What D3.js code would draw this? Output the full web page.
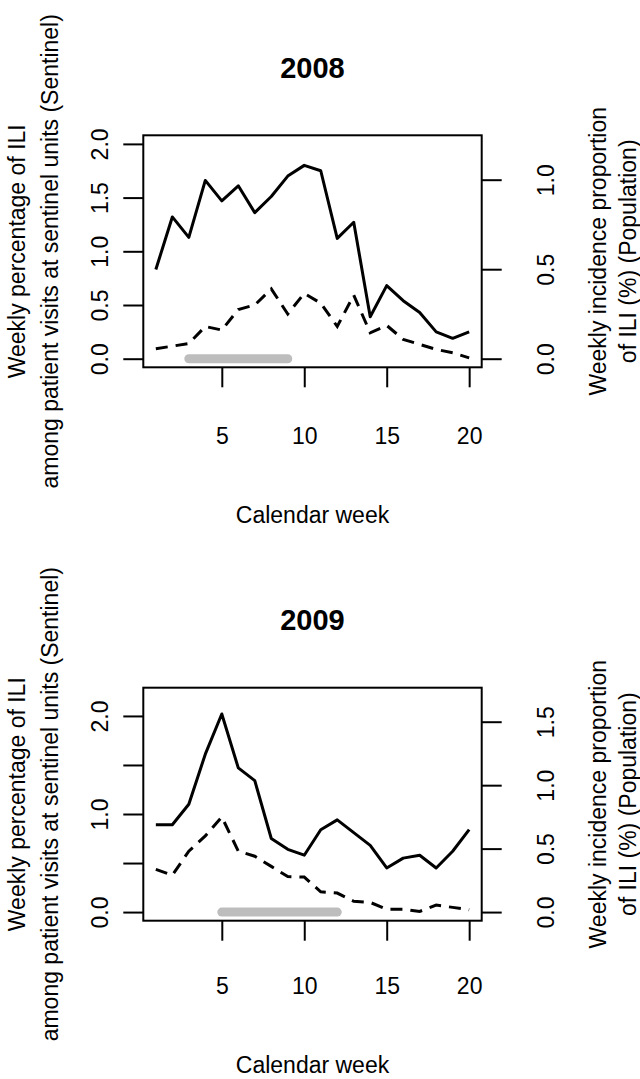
<!DOCTYPE html>
<html lang="en">
<head>
<meta charset="utf-8">
<title>ILI 2008 / 2009</title>
<script src="https://d3js.org/d3.v7.min.js"></script>
<style>
  body { margin: 0; background: #fff; }
  svg { display: block; }
  text { font-family: "Liberation Sans", Arial, sans-serif; fill: #000; }
</style>
</head>
<body>
<script>
// calendar weeks on the x axis
var weeks = [1, 2, 3, 4, 5, 6, 7, 8, 9, 10, 11, 12, 13, 14, 15, 16, 17, 18, 19, 20];
var xTicks = [5, 10, 15, 20];

// 2008 season
var sentinel2008 = [0.83, 1.32, 1.13, 1.66, 1.47, 1.61, 1.36, 1.51, 1.70, 1.80,
                    1.75, 1.12, 1.27, 0.39, 0.68, 0.54, 0.43, 0.25, 0.19, 0.25];
var population2008 = [0.056, 0.07, 0.085, 0.18, 0.16, 0.275, 0.30, 0.39, 0.25, 0.365,
                      0.31, 0.18, 0.355, 0.145, 0.186, 0.108, 0.08, 0.052, 0.033, 0.005];
var period2008 = [3, 9];
var leftTicks2008 = [0, 0.5, 1, 1.5, 2];
var leftLabels2008 = [0, 0.5, 1, 1.5, 2];
var rightTicks2008 = [0, 0.5, 1];

// 2009 season
var sentinel2009 = [0.89, 0.89, 1.10, 1.61, 2.02, 1.47, 1.34, 0.75, 0.64, 0.58,
                    0.84, 0.94, 0.81, 0.68, 0.45, 0.55, 0.58, 0.45, 0.62, 0.84];
var population2009 = [0.336, 0.29, 0.48, 0.60, 0.75, 0.48, 0.44, 0.36, 0.28, 0.276,
                      0.16, 0.15, 0.085, 0.076, 0.023, 0.023, 0.005, 0.055, 0.037, 0.018];
var period2009 = [5, 12];
var leftTicks2009 = [0, 0.5, 1, 1.5, 2];
var leftLabels2009 = [0, 1, 2];
var rightTicks2009 = [0, 0.5, 1, 1.5];

var leftTitle = ["Weekly percentage of ILI", "among patient visits at sentinel units (Sentinel)"];
var rightTitle = ["Weekly incidence proportion", "of ILI (%) (Population)"];
var xTitle = "Calendar week";

var W = 640, H = 1079;
var FS = "23px";
var svg = d3.select("body").append("svg")
    .attr("width", W)
    .attr("height", H);

svg.append("rect").attr("width", W).attr("height", H).attr("fill", "#fff");

// R style limits: 4% padding each side
function pad(lo, hi) {
    var d = (hi - lo) * 0.04;
    return [lo - d, hi + d];
}

function panel(p) {
    var x = d3.scaleLinear().domain(pad(1, 20)).range([p.left, p.right]);
    var yL = d3.scaleLinear().domain(pad(0, p.ylimL)).range([p.bottom, p.top]);
    var yR = d3.scaleLinear().domain(pad(0, p.ylimR)).range([p.bottom, p.top]);
    var cx = (p.left + p.right) / 2;

    var g = svg.append("g");

    // title
    g.append("text")
        .attr("x", cx)
        .attr("y", p.titleY)
        .attr("text-anchor", "middle")
        .attr("font-size", "29px")
        .attr("font-weight", "bold")
        .text(p.title);

    // study period bar
    g.append("line")
        .attr("x1", x(p.period[0])).attr("x2", x(p.period[1]))
        .attr("y1", yL(0)).attr("y2", yL(0))
        .attr("stroke", "#bdbdbd")
        .attr("stroke-width", 9)
        .attr("stroke-linecap", "round");

    var lineL = d3.line().x(function(d, i) { return x(weeks[i]); }).y(function(d) { return yL(d); });
    var lineR = d3.line().x(function(d, i) { return x(weeks[i]); }).y(function(d) { return yR(d); });

    g.append("path")
        .attr("d", lineL(p.sentinel))
        .attr("fill", "none")
        .attr("stroke", "#000")
        .attr("stroke-width", 3)
        .attr("stroke-linejoin", "round");

    g.append("path")
        .attr("d", lineR(p.population))
        .attr("fill", "none")
        .attr("stroke", "#000")
        .attr("stroke-width", 3)
        .attr("stroke-dasharray", "12,8");

    // box
    g.append("rect")
        .attr("x", p.left).attr("y", p.top)
        .attr("width", p.right - p.left).attr("height", p.bottom - p.top)
        .attr("fill", "none")
        .attr("stroke", "#000")
        .attr("stroke-width", 2);

    // bottom axis
    var ax = g.append("g")
        .attr("transform", "translate(0," + p.bottom + ")")
        .call(d3.axisBottom(x).tickValues(xTicks).tickSize(20).tickFormat(d3.format("d")));
    ax.select(".domain").remove();
    ax.selectAll("line").attr("stroke-width", 2);
    ax.selectAll("text")
        .attr("y", p.xLabelOff).attr("dy", 0)
        .attr("font-size", FS)
        .attr("font-family", "Liberation Sans, Arial, sans-serif");

    // left axis
    var al = g.append("g")
        .attr("transform", "translate(" + p.left + ",0)")
        .call(d3.axisLeft(yL).tickValues(p.leftTicks).tickSize(20)
            .tickFormat(function(d) { return p.leftLabels.indexOf(d) >= 0 ? d3.format(".1f")(d) : ""; }));
    al.select(".domain").remove();
    al.selectAll("line").attr("stroke-width", 2);
    al.selectAll("text")
        .attr("x", 0).attr("y", 0).attr("dy", 0)
        .attr("transform", "translate(-35,0) rotate(-90)")
        .attr("text-anchor", "middle")
        .attr("font-size", FS)
        .attr("font-family", "Liberation Sans, Arial, sans-serif");

    // right axis
    var ar = g.append("g")
        .attr("transform", "translate(" + p.right + ",0)")
        .call(d3.axisRight(yR).tickValues(p.rightTicks).tickSize(20).tickFormat(d3.format(".1f")));
    ar.select(".domain").remove();
    ar.selectAll("line").attr("stroke-width", 2);
    ar.selectAll("text")
        .attr("x", 0).attr("y", 0).attr("dy", 0)
        .attr("transform", "translate(72,0) rotate(-90)")
        .attr("text-anchor", "middle")
        .attr("font-size", FS)
        .attr("font-family", "Liberation Sans, Arial, sans-serif");

    var cy = (p.top + p.bottom) / 2;

    // axis titles
    leftTitle.forEach(function(t, i) {
        g.append("text")
            .attr("transform", "translate(" + [25 + i * 33, cy] + ") rotate(-90)")
            .attr("text-anchor", "middle")
            .attr("font-size", FS)
            .text(t);
    });
    rightTitle.forEach(function(t, i) {
        g.append("text")
            .attr("transform", "translate(" + [606 + i * 30, cy] + ") rotate(-90)")
            .attr("text-anchor", "middle")
            .attr("font-size", FS)
            .text(t);
    });
    g.append("text")
        .attr("x", cx)
        .attr("y", p.xTitleY)
        .attr("text-anchor", "middle")
        .attr("font-size", FS)
        .text(xTitle);
}

panel({
    title: "2008", titleY: 78, xTitleY: 523, xLabelOff: 77,
    left: 143.3, right: 481.7, top: 135.3, bottom: 367.3,
    ylimL: 2, ylimR: 1.2,
    sentinel: sentinel2008, population: population2008, period: period2008,
    leftTicks: leftTicks2008, leftLabels: leftLabels2008, rightTicks: rightTicks2008
});

panel({
    title: "2009", titleY: 630, xTitleY: 1073, xLabelOff: 73,
    left: 143.3, right: 481.7, top: 687.7, bottom: 920.7,
    ylimL: 2.2, ylimR: 1.7,
    sentinel: sentinel2009, population: population2009, period: period2009,
    leftTicks: leftTicks2009, leftLabels: leftLabels2009, rightTicks: rightTicks2009
});
</script>
</body>
</html>
